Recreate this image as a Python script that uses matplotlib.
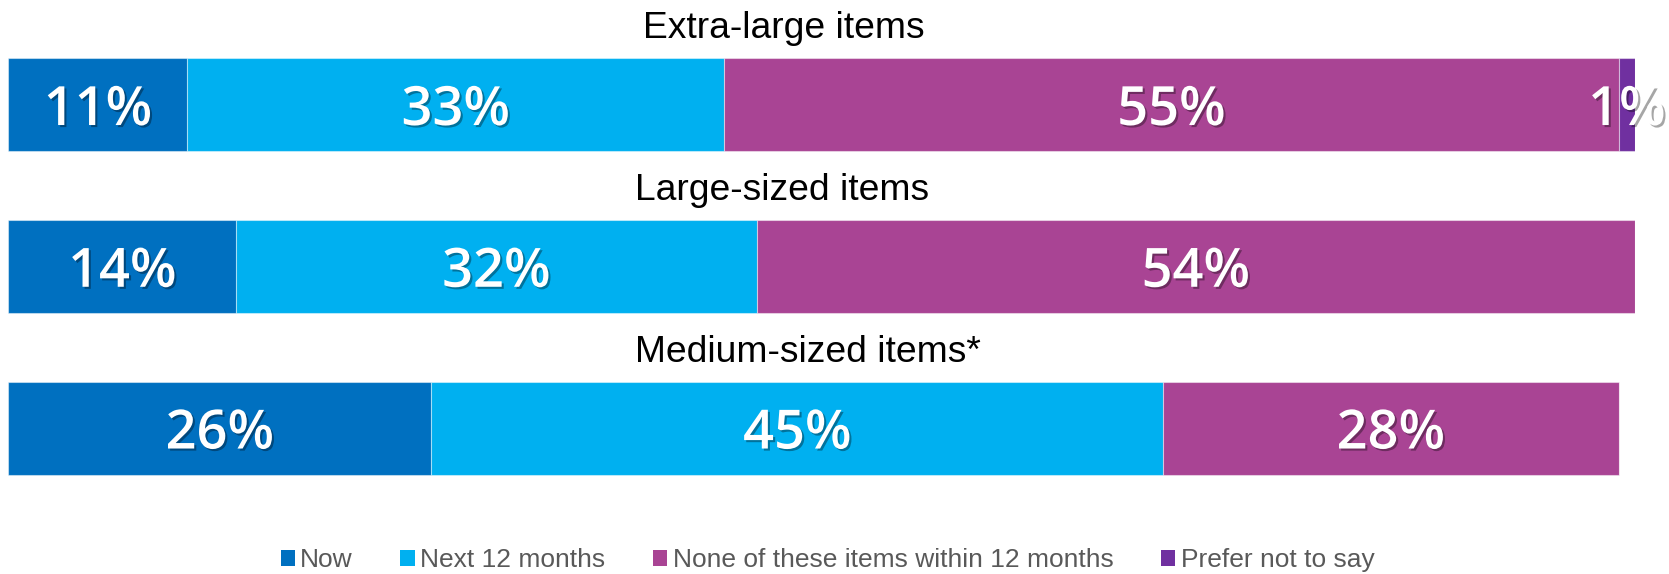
import matplotlib
matplotlib.use("Agg")
import matplotlib.pyplot as plt
import matplotlib.patheffects as pe
from matplotlib.patches import Patch

groups = ["Extra-large items", "Large-sized items", "Medium-sized items*"]
series = ["Now", "Next 12 months", "None of these items within 12 months", "Prefer not to say"]
now = [11, 14, 26]
next12 = [33, 32, 45]
none12 = [55, 54, 28]
prefer = [1, 0, 0]
colors = ["#0070C0", "#00B0F0", "#A94494", "#7030A0"]

fig = plt.figure(figsize=(16.69, 5.74), dpi=100)
ax = fig.add_axes([0.00509, 0.1134, 0.97454, 0.8454])

ypos = list(range(len(groups)))
left = [0.0] * len(groups)
shadow = [pe.SimplePatchShadow(offset=(1.5, -1.5), shadow_rgbFace="black", alpha=0.35), pe.Normal()]
for vals, col, name in zip([now, next12, none12, prefer], colors, series):
    ax.barh(ypos, vals, left=left, height=0.575, color=col,
            edgecolor=(1, 1, 1, 0.45), linewidth=0.8, label=name)
    for i in ypos:
        if vals[i] > 0:
            ax.text(left[i] + vals[i] / 2, i, f"{vals[i]}%", ha="center", va="center_baseline",
                    color="white", fontsize=39, family="Open Sans", fontweight="semibold",
                    path_effects=shadow)
    left = [l + v for l, v in zip(left, vals)]

# group titles above each bar
for i, g in enumerate(groups):
    x0 = 39.0 if i == 0 else 38.5
    ax.text(x0, i - 0.41, g, ha="left", va="baseline", fontsize=26.8,
            family="Liberation Sans", color="black")

ax.set_xlim(0, 100)
ax.set_ylim(2.5, -0.5)
ax.axis("off")

handles = [Patch(facecolor=c, edgecolor="none") for c in colors]
fig.legend(handles, series, loc="center", bbox_to_anchor=(0.4958, 0.0244), ncol=4,
           frameon=False, prop={"family": "Liberation Sans", "size": 19},
           labelcolor="#595959", handlelength=0.55, handleheight=0.55,
           handletextpad=0.2, columnspacing=1.8)

fig.savefig("out.png", dpi=100)
